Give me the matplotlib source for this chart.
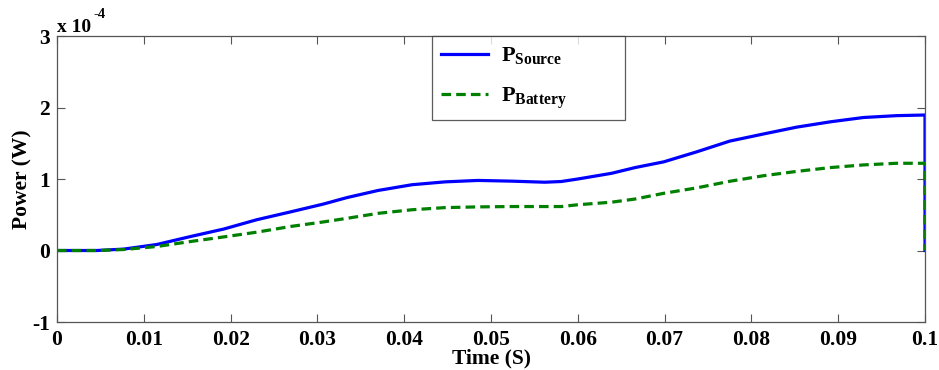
import matplotlib
matplotlib.use("Agg")
import matplotlib.pyplot as plt

plt.rcParams["font.family"] = ["Liberation Serif", "DejaVu Serif"]
plt.rcParams["font.weight"] = "bold"
plt.rcParams["mathtext.fontset"] = "custom"
plt.rcParams["mathtext.rm"] = "Liberation Serif:bold"
plt.rcParams["mathtext.bf"] = "Liberation Serif:bold"
plt.rcParams["mathtext.it"] = "Liberation Serif:bold"

# Time axis (s) and powers in units of 1e-4 W
time_s = [0.0, 0.0046, 0.0077, 0.0115, 0.0154, 0.0192, 0.0230, 0.0269,
          0.0307, 0.0334, 0.0370, 0.0409, 0.0447, 0.0485, 0.0524, 0.0562,
          0.0581, 0.0600, 0.0639, 0.0666, 0.0699, 0.0737, 0.0775, 0.0814,
          0.0852, 0.0891, 0.0929, 0.0967, 0.1, 0.1]
p_source = [0.0, 0.0, 0.02, 0.084, 0.196, 0.30, 0.43, 0.54,
            0.65, 0.74, 0.84, 0.92, 0.96, 0.98, 0.97, 0.955,
            0.965, 1.00, 1.08, 1.16, 1.24, 1.38, 1.53, 1.63,
            1.725, 1.80, 1.86, 1.886, 1.895, 0.0]
p_battery = [0.0, 0.0, 0.014, 0.056, 0.126, 0.19, 0.256, 0.336,
             0.40, 0.45, 0.52, 0.57, 0.60, 0.61, 0.615, 0.615,
             0.615, 0.64, 0.676, 0.72, 0.80, 0.876, 0.968, 1.046,
             1.106, 1.16, 1.197, 1.22, 1.22, 0.0]

x_ticks = [0, 0.01, 0.02, 0.03, 0.04, 0.05, 0.06, 0.07, 0.08, 0.09, 0.1]
x_tick_labels = ["0", "0.01", "0.02", "0.03", "0.04", "0.05", "0.06",
                 "0.07", "0.08", "0.09", "0.1"]
y_ticks = [-1, 0, 1, 2, 3]
y_tick_labels = ["-1", "0", "1", "2", "3"]

fig = plt.figure(figsize=(9.39, 3.70), dpi=100)
ax = fig.add_axes([0.0607, 0.1297, 0.9244, 0.773])

ax.plot(time_s, p_source, color=(0, 0, 1), lw=2.3,
        label=r"$\mathbf{P}_{\mathbf{Source}}$")
ax.plot(time_s, p_battery, color=(0, 0.5, 0), lw=2.3, ls=(0, (3, 1.6)),
        label=r"$\mathbf{P}_{\mathbf{Battery}}$")

ax.set_xlim(0, 0.1)
ax.set_ylim(-1, 3)
ax.set_xticks(x_ticks)
ax.set_xticklabels(x_tick_labels)
ax.set_yticks(y_ticks)
ax.set_yticklabels(y_tick_labels)
ax.tick_params(direction="in", length=6, width=0.8, color="#555555",
               labelsize=15.5, top=True, right=True)
ax.tick_params(axis="x", pad=6)
ax.tick_params(axis="y", pad=5)
for lbl in ax.get_xticklabels() + ax.get_yticklabels():
    lbl.set_fontweight("bold")
for sp in ax.spines.values():
    sp.set_color("#555555")
    sp.set_linewidth(0.9)

ax.set_xlabel("Time (S)", fontsize=15.5, fontweight="bold")
ax.xaxis.set_label_coords(0.5, -0.094)
ax.set_ylabel("Power (W)", fontsize=15.5, fontweight="bold")
ax.yaxis.set_label_coords(-0.028, 0.5)

# exponent of the y axis
fig.text(57 / 939, 1 - 32.3 / 370, "x 10", fontsize=14, fontweight="bold",
         ha="left", va="baseline")
fig.text(94 / 939, 1 - 18.3 / 370, "-4", fontsize=10.5, fontweight="bold",
         ha="left", va="baseline")

leg = ax.legend(loc="upper left", bbox_to_anchor=(0.432, 0.0, 0.2224, 1.0),
                mode="expand", fontsize=16, frameon=True, fancybox=False,
                handlelength=2.1, handletextpad=0.6, borderpad=0.42,
                labelspacing=0.85, borderaxespad=0)
leg.get_frame().set_edgecolor("#333333")
leg.get_frame().set_linewidth(0.9)

fig.savefig("out.png", dpi=100)
